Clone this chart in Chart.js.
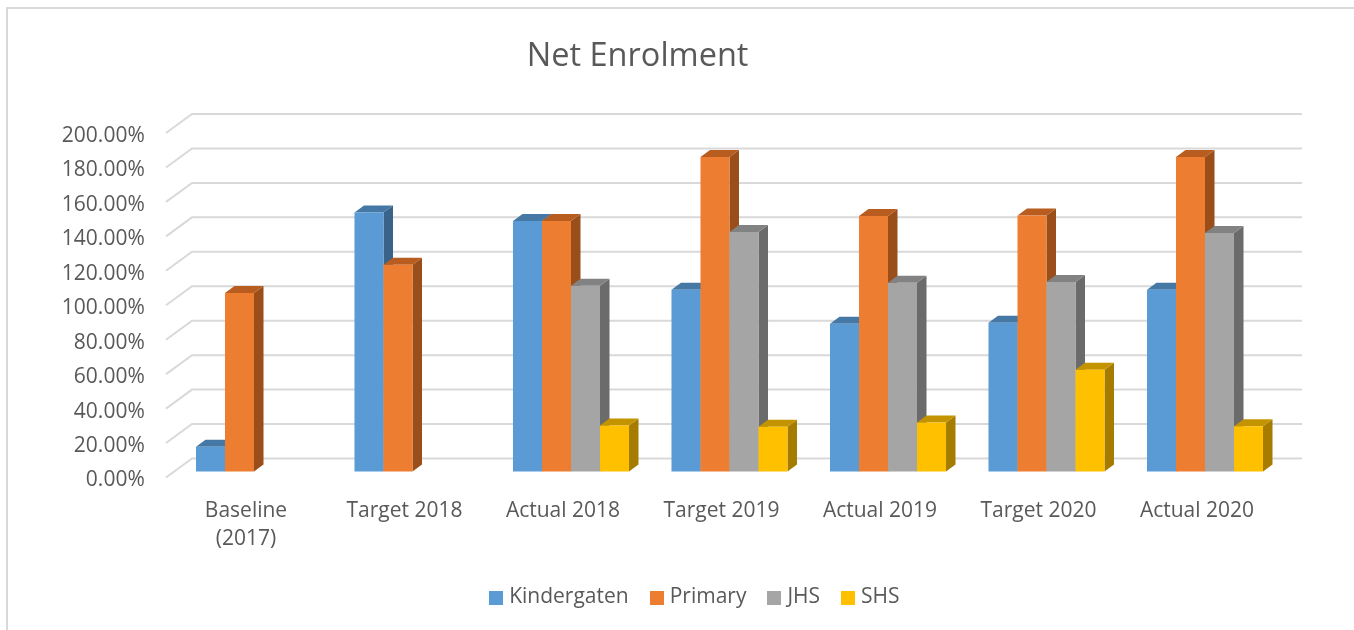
<!DOCTYPE html>
<html>
<head>
<meta charset="utf-8">
<style>
  html, body { margin: 0; padding: 0; background: #fff; }
</style>
<script src="https://cdn.jsdelivr.net/npm/chart.js@4"></script>
</head>
<body>
<canvas id="chartBars" width="1354" height="630" style="display:block"></canvas>
<script>
const categories = [['Baseline', '(2017)'], 'Target 2018', 'Actual 2018', 'Target 2019', 'Actual 2019', 'Target 2020', 'Actual 2020'];
const kindergaten = [14.3, 150.3, 145.5, 105.5, 85.8, 86.4, 105.5];
const primary = [103.6, 120, 145.5, 182.6, 148.4, 148.6, 182.6];
const jhs = [null, null, 107.8, 139, 109.6, 110, 138.5];
const shs = [null, null, 26.7, 26, 28.4, 59, 26.3];

const textColor = '#595959';
const font = 'Open Sans';

// front, top and side colours of each series
const faces = [
  ['#5B9BD5', '#4578A5', '#3A6389'],
  ['#ED7D31', '#B85C20', '#9A4F1B'],
  ['#A5A5A5', '#828282', '#6B6B6B'],
  ['#FFC000', '#C49400', '#A67C00']
];

function fillPoly(ctx, color, pts) {
  ctx.fillStyle = color;
  ctx.beginPath();
  pts.forEach((p, i) => i ? ctx.lineTo(p[0], p[1]) : ctx.moveTo(p[0], p[1]));
  ctx.closePath();
  ctx.fill();
}

// legend swatch as a small canvas, so the gap to the text can be tighter than font size / 2
function swatch(color) {
  const c = document.createElement('canvas');
  c.width = 14;
  c.height = 14;
  const g = c.getContext('2d');
  g.fillStyle = color;
  g.fillRect(0, 0, 14, 14);
  return c;
}

// the 3D look: wall gridlines, then each series in order with its depth faces
const depthPlugin = {
  id: 'depth',
  afterLayout(chart) {
    chart.titleBlock.left -= 4.5;
    chart.titleBlock.right -= 4.5;
    chart.legend.left += 54.5;
    chart.legend.right += 54.5;
  },
  beforeDraw(chart) {
    const ctx = chart.ctx;
    ctx.save();
    ctx.strokeStyle = '#D9D9D9';
    ctx.lineWidth = 2;
    ctx.beginPath();
    ctx.moveTo(7, 630);
    ctx.lineTo(7, 8);
    ctx.lineTo(1354, 8);
    ctx.stroke();
    ctx.restore();
  },
  beforeDatasetsDraw(chart) {
    const ctx = chart.ctx;
    const y = chart.scales.y;
    ctx.save();
    ctx.strokeStyle = '#D9D9D9';
    ctx.lineWidth = 2;
    y.ticks.forEach(t => {
      const py = y.getPixelForValue(t.value);
      ctx.beginPath();
      ctx.moveTo(166, py + 6);
      ctx.lineTo(192, py - 13);
      ctx.lineTo(1302, py - 13);
      ctx.stroke();
    });
    ctx.restore();

    const dx = 9.5, dy = -7;
    chart.data.datasets.forEach((ds, i) => {
      const meta = chart.getDatasetMeta(i);
      meta.data.forEach((bar, j) => {
        if (ds.data[j] === null) return;
        const r = bar.x + bar.width / 2;
        const l = bar.x - bar.width / 2;
        fillPoly(ctx, faces[i][2], [[r, bar.y], [r + dx, bar.y + dy], [r + dx, bar.base + dy], [r, bar.base]]);
        fillPoly(ctx, faces[i][1], [[l, bar.y], [l + dx, bar.y + dy], [r + dx, bar.y + dy], [r, bar.y]]);
      });
      meta.controller.draw();
    });
    return false;
  }
};

new Chart(document.getElementById('chartBars'), {
  type: 'bar',
  data: {
    labels: categories,
    datasets: [
      { label: 'Kindergaten', data: kindergaten, backgroundColor: faces[0][0], pointStyle: swatch(faces[0][0]) },
      { label: 'Primary', data: primary, backgroundColor: faces[1][0], pointStyle: swatch(faces[1][0]) },
      { label: 'JHS', data: jhs, backgroundColor: faces[2][0], pointStyle: swatch(faces[2][0]) },
      { label: 'SHS', data: shs, backgroundColor: faces[3][0], pointStyle: swatch(faces[3][0]) }
    ]
  },
  options: {
    responsive: false,
    animation: false,
    layout: { padding: { left: 0, right: 69.75, top: 0, bottom: 12 } },
    datasets: { bar: { categoryPercentage: 0.732, barPercentage: 1 } },
    plugins: {
      title: {
        display: true,
        text: 'Net Enrolment',
        color: textColor,
        font: { family: font, size: 32.5, weight: 'normal', lineHeight: 1.2 },
        padding: { top: 37, bottom: 51 }
      },
      legend: {
        position: 'bottom',
        labels: {
          color: textColor,
          font: { family: font, size: 21 },
          boxHeight: 14,
          usePointStyle: true,
          pointStyleWidth: 5,
          padding: 25.5
        }
      },
      tooltip: { enabled: false }
    },
    scales: {
      x: {
        grid: { display: false },
        border: { display: false },
        afterFit(scale) { scale.height = 90; },
        ticks: {
          color: textColor,
          font: { family: font, size: 21, lineHeight: 1.35 },
          padding: 17,
          labelOffset: -8,
          maxRotation: 0,
          autoSkip: false
        }
      },
      y: {
        min: 0,
        max: 200,
        grid: { display: false },
        border: { display: false },
        afterFit(scale) { scale.width = 174.75; },
        ticks: {
          stepSize: 20,
          color: textColor,
          font: { family: font, size: 21 },
          padding: 22,
          labelOffset: 9,
          callback: v => v.toFixed(2) + '%'
        }
      }
    }
  },
  plugins: [depthPlugin]
});
</script>
</body>
</html>
